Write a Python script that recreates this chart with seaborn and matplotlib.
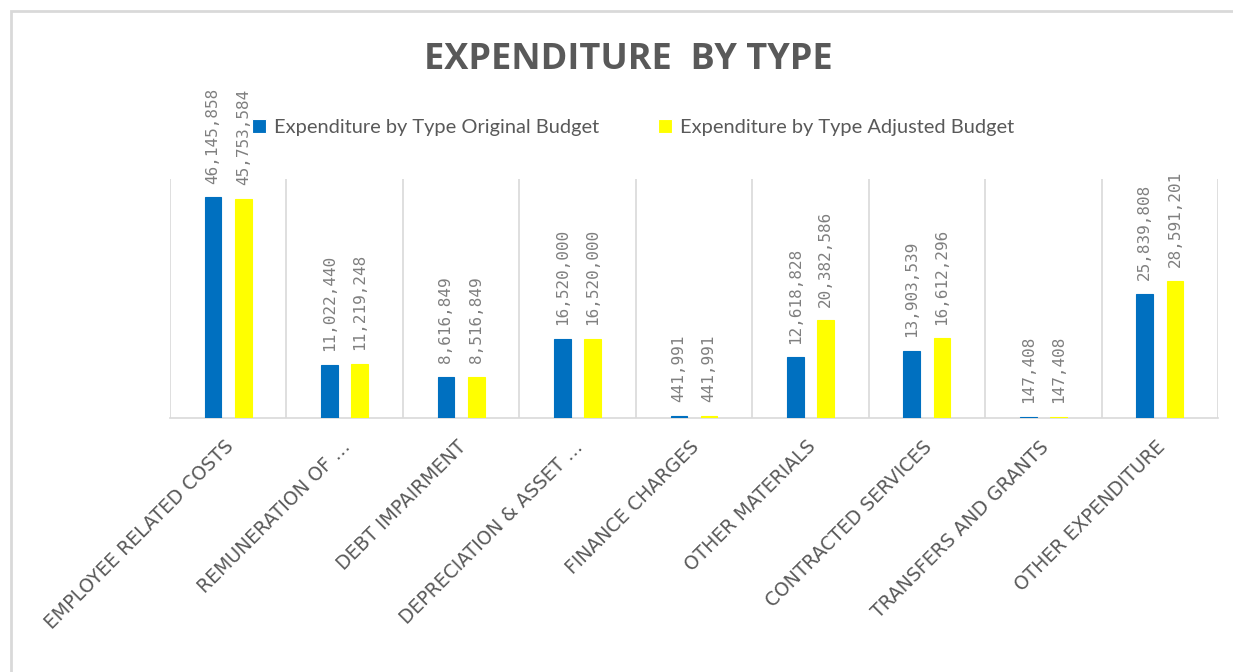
import numpy as np
import pandas as pd
import matplotlib
matplotlib.use("Agg")
import matplotlib.pyplot as plt
import matplotlib.transforms as mtransforms
import seaborn as sns
from matplotlib.patches import Rectangle

categories = [
    "EMPLOYEE RELATED COSTS",
    "REMUNERATION OF …",
    "DEBT IMPAIRMENT",
    "DEPRECIATION & ASSET …",
    "FINANCE CHARGES",
    "OTHER MATERIALS",
    "CONTRACTED SERVICES",
    "TRANSFERS AND GRANTS",
    "OTHER EXPENDITURE",
]
original_budget = [46145858, 11022440, 8616849, 16520000, 441991,
                   12618828, 13903539, 147408, 25839808]
adjusted_budget = [45753584, 11219248, 8516849, 16520000, 441991,
                   20382586, 16612296, 147408, 28591201]
series_names = ["Expenditure by Type Original Budget",
                "Expenditure by Type Adjusted Budget"]
title = "EXPENDITURE  BY TYPE"

sns.set_theme(style="white")
plt.rcParams["font.family"] = ["Lato", "DejaVu Sans"]

df = pd.DataFrame({
    "category": categories * 2,
    "value": original_budget + adjusted_budget,
    "series": [series_names[0]] * len(categories) + [series_names[1]] * len(categories),
})

fig = plt.figure(figsize=(12.33, 6.72), dpi=100)
ax = fig.add_axes([170 / 1233, 1 - 417.7 / 672, (1218 - 170) / 1233, (417.7 - 179) / 672])

colors = ["#0070C0", "#FFFF00"]
sns.barplot(data=df, x="category", y="value", hue="series",
            palette=colors, width=0.52, gap=0.45,
            order=categories, hue_order=series_names,
            ax=ax, legend=True, errorbar=None, saturation=1,
            linewidth=0.8, zorder=3)

# give each bar an edge of its own colour so tiny values stay visible
for cont, c in zip(ax.containers, colors):
    for p in cont:
        p.set_edgecolor(c)
        p.set_joinstyle("bevel")
        p.set_zorder(3)

ax.set_ylim(0, 50_000_000)
ax.set_xlim(-0.5, len(categories) - 0.5)

for cont in ax.containers:
    ax.bar_label(cont, labels=[f"{v:,.0f}" for v in cont.datavalues],
                 rotation=90, padding=10, color="#7F7F7F", fontsize=11.5,
                 family="DejaVu Sans Mono")

# category separators
ax.set_xticks(np.arange(-0.5, len(categories), 1), minor=True)
ax.grid(axis="x", which="minor", color="#D9D9D9", linewidth=1.2)
ax.grid(axis="x", which="major", visible=False)
ax.grid(axis="y", visible=False)
ax.tick_params(axis="x", which="both", length=0)

ax.set_xticks(range(len(categories)))
ax.set_xticklabels(categories, rotation=45, ha="right", rotation_mode="anchor",
                   color="#595959", fontsize=13.5, family=["DejaVu Sans"])
ax.tick_params(axis="x", pad=14)
offset = mtransforms.ScaledTranslation(-3 / 72, 0, fig.dpi_scale_trans)
for lab in ax.get_xticklabels():
    lab.set_transform(lab.get_transform() + offset)
ax.set_yticks([])
ax.set_xlabel("")
ax.set_ylabel("")
for s in ["left", "right", "top"]:
    ax.spines[s].set_visible(False)
ax.spines["bottom"].set_color("#D9D9D9")
ax.spines["bottom"].set_linewidth(1.2)
ax.spines["bottom"].set_zorder(1)

handles, labels = ax.get_legend_handles_labels()
ax.get_legend().remove()
fig.legend(handles, labels, loc="center", bbox_to_anchor=(633 / 1233, 1 - 127 / 672),
           ncol=2, frameon=False, handlelength=0.7, handleheight=0.7,
           handletextpad=0.4, columnspacing=2.9, fontsize=14.4,
           labelcolor="#595959")

fig.text(628 / 1233, 1 - 60 / 672, title, ha="center", va="center",
         fontsize=26, fontweight="bold", color="#595959",
         family=["Open Sans", "DejaVu Sans"])

fig.patches.append(Rectangle((11 / 1233, -0.05), 1.2, 1 - 11 / 672 + 0.05,
                             transform=fig.transFigure, fill=False,
                             edgecolor="#D9D9D9", linewidth=2, clip_on=False))

fig.savefig("out.png", dpi=100)
